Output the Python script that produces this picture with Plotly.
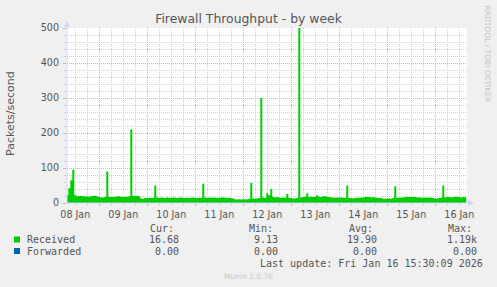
import plotly.graph_objects as go
import pandas as pd

# ---------------- data ----------------
title = "Firewall Throughput - by week"
y_label = "Packets/second"

# hourly readings, each value is the bin ending at hh:30
received_08jan = [18, 22, 42, 65, 95, 22, 19, 20, 20, 19, 18, 19, 18, 19, 20, 21, 19]
received_09jan = [17, 16, 16, 17, 90, 18, 17, 18, 17, 19, 19, 18,
                  17, 18, 18, 19, 210, 20, 21, 20, 19, 13, 12, 14]
received_10jan = [14, 15, 14, 15, 50, 16, 15, 16, 15, 14, 16, 15,
                  15, 16, 15, 14, 15, 16, 15, 14, 15, 14, 15, 16]
received_11jan = [15, 14, 15, 15, 55, 16, 15, 16, 15, 16, 15, 14,
                  15, 16, 16, 15, 14, 15, 14, 13, 11, 10, 11, 10]
received_12jan = [11, 10, 11, 12, 57, 13, 12, 13, 14, 300, 16, 15,
                  28, 22, 40, 17, 16, 17, 16, 15, 16, 15, 26, 15]
received_13jan = [14, 13, 13, 14, 1190, 16, 17, 18, 28, 17, 18, 17,
                  18, 22, 18, 17, 19, 19, 18, 17, 16, 16, 15, 16]
received_14jan = [16, 16, 15, 15, 50, 14, 14, 13, 14, 15, 15, 16,
                  16, 17, 17, 17, 16, 17, 16, 15, 14, 14, 12, 12]
received_15jan = [12, 13, 12, 14, 48, 15, 16, 16, 16, 17, 17, 17,
                  18, 17, 17, 16, 16, 15, 16, 16, 15, 16, 15, 14]
received_16jan = [13, 13, 14, 15, 50, 16, 17, 17, 16, 17, 17, 18, 17, 16, 17, 16.68]

received = (received_08jan + received_09jan + received_10jan + received_11jan +
            received_12jan + received_13jan + received_14jan + received_15jan +
            received_16jan)
times = pd.date_range("2026-01-08 07:30", periods=len(received), freq="h")
forwarded = [0.0] * len(received)

day_labels = ["08 Jan", "09 Jan", "10 Jan", "11 Jan", "12 Jan",
              "13 Jan", "14 Jan", "15 Jan", "16 Jan"]
label_times = pd.date_range("2026-01-08 12:00", periods=len(day_labels), freq="D")
midnights = pd.date_range("2026-01-09 00:00", periods=8, freq="D")
x_range = ["2026-01-08 07:51", "2026-01-16 15:51"]
y_range = [0, 500]

stat_headers = ["Cur:", "Min:", "Avg:", "Max:"]
series_names = ["Received", "Forwarded"]
series_colors = ["#00CC00", "#0066B3"]
received_stats = ["16.68", "9.13", "19.90", "1.19k"]
forwarded_stats = ["0.00", "0.00", "0.00", "0.00"]
last_update = "Last update: Fri Jan 16 15:30:09 2026"
munin_version = "Munin 2.0.76"
watermark = "RRDTOOL / TOBI OETIKER"

# ---------------- layout helpers ----------------
W, H = 497, 287
L, R, T, B = 67, 30, 28, 84
PW, PH = W - L - R, H - T - B
SANS = "DejaVu Sans"
MONO = "DejaVu Sans Mono"
TXT = "#555555"
AXIS = "#CFD6F8"
MGRID = "#e8a8a8"
GRID = "#d2d2d2"


def px(x):
    return (x - L) / PW


def py(y):
    return (T + PH - y) / PH


fig = go.Figure()
fig.add_trace(go.Scatter(x=times, y=forwarded, xaxis="x2", mode="lines",
                         line=dict(color=series_colors[1], width=0),
                         name=series_names[1], showlegend=False, hoverinfo="skip"))
fig.add_trace(go.Scatter(x=times, y=received, mode="lines",
                         line=dict(color=series_colors[0], width=0, shape="vh"),
                         fill="tozeroy", fillcolor=series_colors[0],
                         name=series_names[0], showlegend=False))

annotations = []


def text(x, y, s, anchor="left", size=10, color=TXT, family=MONO, angle=0):
    annotations.append(dict(x=px(x), y=py(y), xref="paper", yref="paper",
                            text=s, showarrow=False, xanchor=anchor, yanchor="middle",
                            textangle=angle, borderpad=0,
                            font=dict(family=family, size=size, color=color)))


# legend table
header_x = [149, 248, 348, 447]
value_right = [179.5, 278.5, 377.5, 477.5]
for hx, h in zip(header_x, stat_headers):
    text(hx, 228, h)
rows_y = [239.5, 251]
for ry, name, col, stats in zip(rows_y, series_names, series_colors,
                                [received_stats, forwarded_stats]):
    text(26, ry, name)
    for vx, v in zip(value_right, stats):
        text(vx, ry, v, anchor="right")
text(483.5, 263.3, last_update, anchor="right")
text(248, 276, munin_version, anchor="center", size=7.5, color="#c8c8c8", family=SANS)
text(487, 53.5, watermark, anchor="center", size=7.5, color="#c4c4c4", family=SANS, angle=90)
text(10, 114, y_label, anchor="center", size=11, color=TXT, family=SANS, angle=-90)

shapes = []
for ry, col in zip(rows_y, series_colors):
    shapes.append(dict(type="rect", xref="paper", yref="paper",
                       x0=px(14), x1=px(20), y0=py(ry - 3), y1=py(ry + 3),
                       fillcolor=col, line=dict(width=0)))
# axis lines + arrows
shapes.append(dict(type="line", xref="paper", yref="paper", x0=px(67), x1=px(67),
                   y0=py(203.5), y1=py(25), line=dict(color=AXIS, width=1), layer="above"))
shapes.append(dict(type="line", xref="paper", yref="paper", x0=px(66.5), x1=px(470),
                   y0=py(203), y1=py(203), line=dict(color=AXIS, width=1), layer="above"))
shapes.append(dict(type="path", xref="paper", yref="paper",
                   path=f"M {px(64)},{py(27)} L {px(70)},{py(27)} L {px(67)},{py(21)} Z",
                   fillcolor=AXIS, line=dict(width=0), layer="above"))
shapes.append(dict(type="path", xref="paper", yref="paper",
                   path=f"M {px(468)},{py(200)} L {px(468)},{py(206)} L {px(474)},{py(203)} Z",
                   fillcolor=AXIS, line=dict(width=0), layer="above"))

fig.update_layout(
    width=W, height=H, autosize=False,
    margin=dict(l=L, r=R, t=T, b=B, pad=0),
    paper_bgcolor="#F0F0F0", plot_bgcolor="#FFFFFF",
    title=dict(text=title, x=0.5, xref="container", xanchor="center",
               y=1 - 19 / H, yref="container", yanchor="middle",
               font=dict(family=SANS, size=12.4, color=TXT)),
    font=dict(family=SANS, color=TXT),
    showlegend=False,
    xaxis=dict(type="date", range=x_range, tickmode="array", tickvals=midnights,
               showticklabels=False, showgrid=True, gridcolor=MGRID, griddash="1px,1px",
               gridwidth=1, ticks="outside", ticklen=2, tickcolor=MGRID,
               showline=False, zeroline=False,
               minor=dict(tickmode="linear", tick0="2026-01-08 00:00", dtick=6 * 3600000,
                          showgrid=True, gridcolor=GRID, griddash="1px,1px",
                          ticks="outside", ticklen=2, tickcolor=GRID)),
    xaxis2=dict(type="date", overlaying="x", side="bottom", range=x_range,
                tickmode="array", tickvals=label_times, ticktext=day_labels,
                showgrid=False, zeroline=False, showline=False, ticks="",
                ticklabelstandoff=4,
                tickfont=dict(family=SANS, size=9.6, color=TXT)),
    yaxis=dict(range=y_range, tickmode="linear", tick0=0, dtick=100,
               showgrid=True, gridcolor=MGRID, griddash="1px,1px",
               ticks="outside", ticklen=3, tickcolor=MGRID,
               zeroline=False, showline=False, ticklabelstandoff=2,
               tickfont=dict(family=SANS, size=9.6, color=TXT),
               minor=dict(dtick=20, showgrid=True, gridcolor=GRID, griddash="1px,1px",
                          ticks="outside", ticklen=2, tickcolor=GRID)),
    annotations=annotations,
    shapes=shapes,
)

fig.write_html("out.html")
